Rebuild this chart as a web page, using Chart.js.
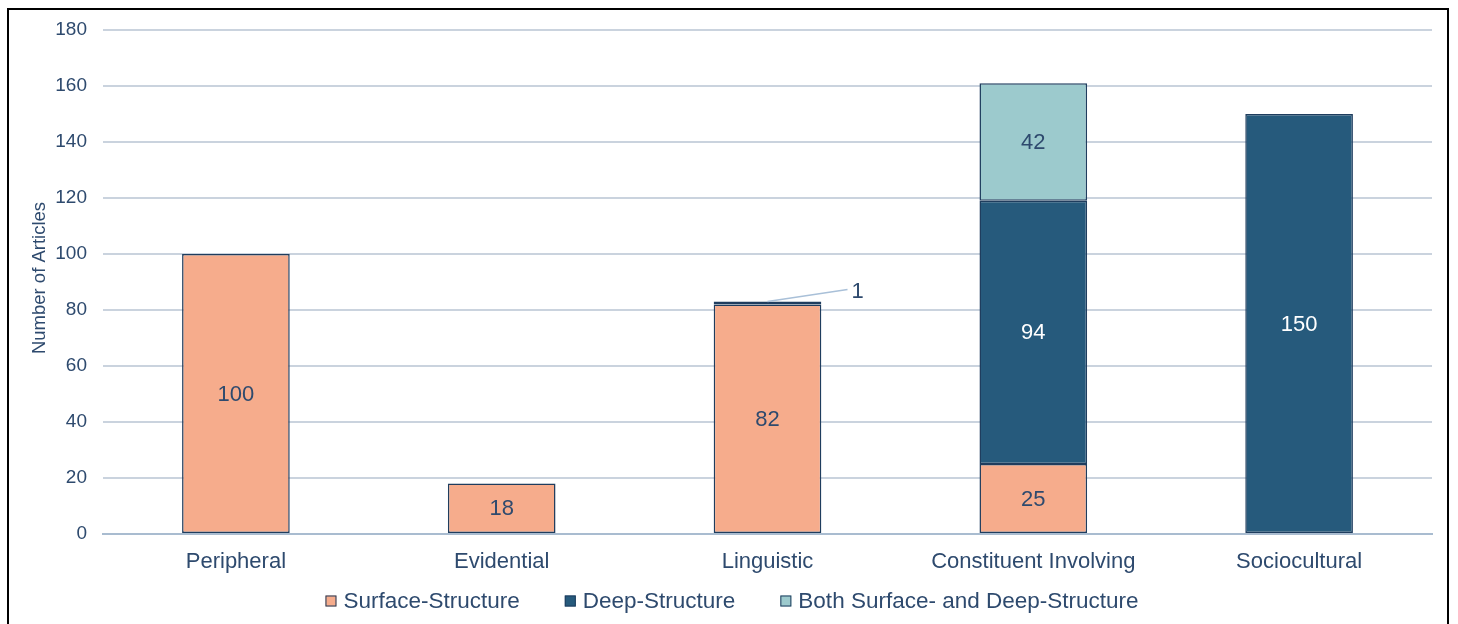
<!DOCTYPE html>
<html>
<head>
<meta charset="utf-8">
<script src="https://cdn.jsdelivr.net/npm/chart.js@4"></script>
<style>
  html, body { margin: 0; padding: 0; background: #fff; }
  #wrap { position: relative; width: 1458px; height: 624px; }
  #frame { position: absolute; left: 7px; top: 8px; width: 1442px; height: 630px;
           border: 2.5px solid #000; box-sizing: border-box; pointer-events: none; }
  canvas { position: absolute; left: 0; top: 0; }
</style>
</head>
<body>
<div id="wrap">
  <canvas id="c" width="1458" height="624"></canvas>
  <div id="frame"></div>
</div>
<script>
// Article counts by approach type
const categories = ["Peripheral", "Evidential", "Linguistic", "Constituent Involving", "Sociocultural"];
const surfaceStructure = [100, 18, 82, 25, null];
const deepStructure = [null, null, 1, 94, 150];
const bothStructures = [null, null, null, 42, null];
const yTicks = [0, 20, 40, 60, 80, 100, 120, 140, 160, 180];

const FONT = "'Liberation Sans', Arial, sans-serif";
const TEXT = "#2E4A6E";
const EDGE = "#1F3D5E";

const seriesDefs = [
  { label: "Surface-Structure", data: surfaceStructure, color: "#F6AC8C", labelColor: TEXT },
  { label: "Deep-Structure", data: deepStructure, color: "#265A7C", labelColor: "#FFFFFF" },
  { label: "Both Surface- and Deep-Structure", data: bothStructures, color: "#9CCACD", labelColor: TEXT }
];

// Value labels inside each segment; very thin segments get a label outside with a leader line
const segmentLabels = {
  id: "segmentLabels",
  afterDatasetsDraw(chart) {
    const ctx = chart.ctx;
    ctx.save();
    ctx.font = "22px " + FONT;
    ctx.textAlign = "center";
    ctx.textBaseline = "middle";
    chart.data.datasets.forEach((ds, di) => {
      const meta = chart.getDatasetMeta(di);
      meta.data.forEach((bar, i) => {
        const v = ds.data[i];
        if (v == null) return;
        const top = bar.y, bottom = bar.base;
        const h = Math.abs(bottom - top);
        if (h < 24) {
          const sx = bar.x, sy = top;
          const lx = bar.x + 90, ly = top - 10;
          ctx.strokeStyle = "#A9C0D8";
          ctx.lineWidth = 1.5;
          ctx.beginPath();
          ctx.moveTo(sx, sy);
          ctx.lineTo(lx - 10, ly - 2);
          ctx.stroke();
          ctx.fillStyle = TEXT;
          ctx.textAlign = "left";
          ctx.fillText(String(v), lx - 6, ly);
          ctx.textAlign = "center";
        } else {
          ctx.fillStyle = seriesDefs[di].labelColor;
          ctx.fillText(String(v), bar.x, (top + bottom) / 2 + 1);
        }
      });
    });
    ctx.restore();
  }
};

// Vertical axis title and bottom legend
const extras = {
  id: "extras",
  afterDraw(chart) {
    const ctx = chart.ctx;
    ctx.save();
    ctx.fillStyle = TEXT;
    ctx.font = "18.5px " + FONT;
    ctx.textAlign = "center";
    ctx.textBaseline = "middle";
    ctx.translate(40, 278);
    ctx.rotate(-Math.PI / 2);
    ctx.fillText("Number of Articles", 0, 0);
    ctx.restore();

    ctx.save();
    ctx.font = "22.5px " + FONT;
    ctx.textBaseline = "middle";
    const box = 11, gap = 7, spacing = 45;
    const widths = seriesDefs.map(s => box + gap + ctx.measureText(s.label).width);
    const total = widths.reduce((a, b) => a + b, 0) + spacing * (widths.length - 1);
    let x = 732 - total / 2;
    const y = 601;
    seriesDefs.forEach((s, k) => {
      ctx.fillStyle = s.color;
      ctx.fillRect(x, y - box / 2, box, box);
      ctx.strokeStyle = EDGE;
      ctx.lineWidth = 1;
      ctx.strokeRect(x + 0.5, y - box / 2 + 0.5, box - 1, box - 1);
      ctx.fillStyle = TEXT;
      ctx.fillText(s.label, x + box + gap, y + 1);
      x += widths[k] + spacing;
    });
    ctx.restore();
  }
};

new Chart(document.getElementById("c"), {
  type: "bar",
  data: {
    labels: categories,
    datasets: seriesDefs.map(s => ({
      label: s.label,
      data: s.data,
      backgroundColor: s.color,
      borderColor: EDGE,
      borderWidth: 1.5,
      borderSkipped: false,
      categoryPercentage: 1.0,
      barPercentage: 0.405
    }))
  },
  options: {
    responsive: false,
    animation: false,
    layout: { padding: { left: 0, right: 26, top: 30, bottom: 0 } },
    plugins: { legend: { display: false }, tooltip: { enabled: false } },
    scales: {
      x: {
        stacked: true,
        grid: { display: false, drawTicks: false },
        border: { display: true, color: "#A9BCD0", width: 2 },
        ticks: { color: TEXT, font: { family: FONT, size: 22 }, padding: 15, maxRotation: 0, autoSkip: false },
        afterFit(scale) { scale.height = 90; }
      },
      y: {
        stacked: true,
        min: 0,
        max: 180,
        afterBuildTicks(scale) { scale.ticks = yTicks.map(v => ({ value: v })); },
        afterFit(scale) { scale.width = 103; },
        grid: { color: "#CAD3DE", lineWidth: 2, drawTicks: false },
        border: { display: false },
        ticks: { color: TEXT, font: { family: FONT, size: 19 }, padding: 16 }
      }
    }
  },
  plugins: [segmentLabels, extras]
});
</script>
</body>
</html>
